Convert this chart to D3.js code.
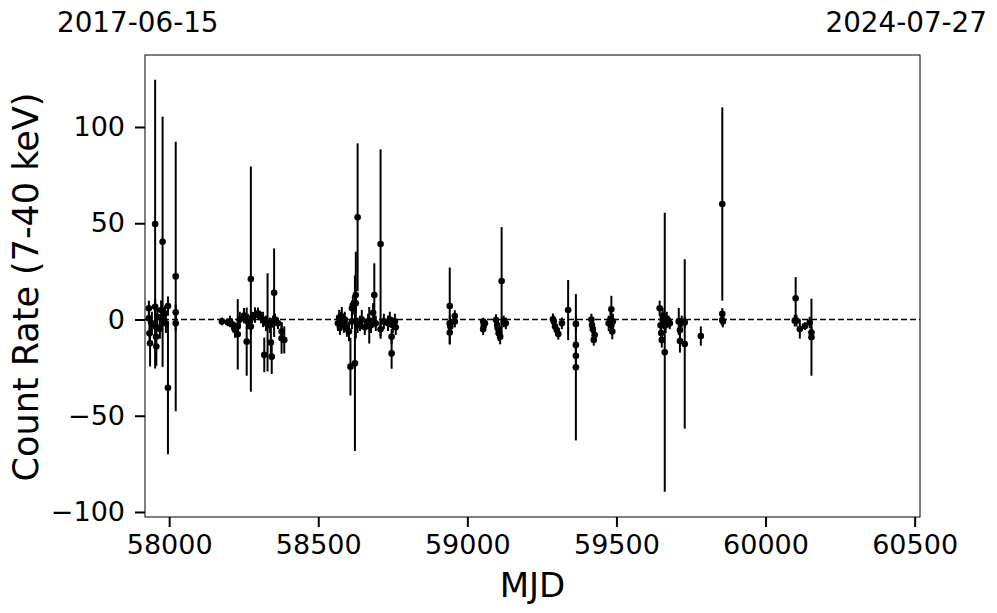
<!DOCTYPE html>
<html>
<head>
<meta charset="utf-8">
<script src="https://cdn.jsdelivr.net/npm/d3@7"></script>
<style>
  html, body { margin: 0; padding: 0; background: #fff; }
  svg { display: block; font-family: "DejaVu Sans", sans-serif; }
</style>
</head>
<body>
<svg id="chart" width="997" height="613"></svg>
<script>
// ---- data ----
const mjd = [
  57932, 57932, 57934, 57936, 57942, 57953, 57953, 57955, 57956, 57957, 57960, 57969, 57973, 57978, 57976, 57986, 57989, 57996, 57996, 58022, 58022, 58022,
  58177, 58197, 58204, 58211, 58221, 58230, 58230, 58237, 58251, 58260, 58264, 58274, 58274, 58278, 58288, 58298, 58308, 58315, 58319, 58325, 58330, 58338, 58344, 58341, 58348, 58352, 58355, 58365, 58377, 58377, 58386,
  58566, 58570, 58573, 58576, 58579, 58586, 58589, 58596, 58603, 58608, 58613, 58613, 58616, 58623, 58626, 58626, 58632, 58632, 58640, 58646, 58656, 58667, 58671, 58677, 58684, 58688, 58693, 58709, 58709, 58720, 58734, 58740, 58746, 58746, 58750, 58757, 58760,
  58941, 58941, 58943, 58941, 58958, 58958, 59053, 59055, 59053, 59059, 59115, 59096, 59100, 59102, 59105, 59110, 59122, 59129,
  59287, 59290, 59294, 59300, 59305, 59317, 59338, 59364, 59364, 59364, 59364, 59416, 59418, 59421, 59424, 59427, 59474, 59480, 59483, 59483, 59486, 59488,
  59645, 59648, 59650, 59652, 59655, 59658, 59662, 59665, 59669, 59675, 59679, 59709, 59713, 59713, 59719, 59729, 59729, 59783, 59855, 59855, 59855, 59857,
  60101, 60098, 60104, 60115, 60132, 60148, 60154, 60154
];
const rate = [
  5.8, 0.6, -7.2, -12.4, -2, 49.6, 6.6, -3.7, -8.9, -14, 1.5, -5, 4.9, 40.4, 0.6, 3.2, -2, 7, -35.5, 22.4, 3.7, -2,
  -1, -1.5, -1, -2.5, -5.5, -7.7, -3.7, 0, 2, -11.5, -1, 21, -3.7, 1, 2.3, 3.2, 1, 0, -18.4, -2, -1.5, -3, -19.3, -12, -1, 13.9, 0, -2, -6.3, -9.8, -10.6,
  -2, 1, -4, -1, 1.5, -3, 0, -5, -6.3, -24.5, 5.8, -1, 7.5, -22.7, 12.7, 8.4, 53.1, -3, -2, 0, -4, -1, -3, -3, 3.5, 12.7, -2, 39.2, -5.1, -1, -2, 0, -17.6, -8.9, -3, -1, -4,
  7, -2, -3.7, -6.8, 1.8, -1.1, -1.1, -3.4, -5.1, -2, 20, -0.3, -2.9, -4.6, -7.2, -8.9, -1, -2,
  0.1, -1, -3.7, -5.5, -7.5, -2, 4.9, -2.3, -13.2, -18.8, -24.8, 0, -2.9, -5.1, -10.6, -8, -2, 0, 5.3, -3, -6.3, -1,
  5.8, -3, -7, -10.6, 2, -1, -17, -3, 0, -1, -2, -1, -5.5, -11.2, -1, -12.7, -1.5, -8.6, 60, 2.9, -0.3, -1.1,
  11, -0.6, -0.6, -4.9, -3.4, -1.6, -6.8, -9.2
];
const rateErr = [
  4, 3, 5, 12, 6, 75, 4, 5, 6, 10, 4, 5, 5, 65, 4, 4, 5, 5, 34.5, 70, 4, 4,
  2, 2, 3, 3, 4, 18.3, 4, 4, 4, 17.7, 4, 58.5, 4, 3, 4, 3, 3, 4, 9, 4, 25.5, 4, 9, 8, 3, 23, 3, 3, 5, 8, 7,
  4, 4, 4, 5, 5, 4, 4, 4, 5, 15, 4, 4, 5, 45.6, 22.5, 5, 38.4, 4, 4, 5, 4, 4, 9.5, 4, 5, 16.5, 4, 49.2, 4, 4, 4, 4, 8, 4, 4, 4, 4,
  20, 4, 4, 6, 3, 3, 2, 2, 3, 2, 28, 3, 4, 4, 4, 4, 3, 3,
  3, 3, 3, 3, 3, 3, 15.6, 4, 4, 5, 38, 3, 4, 4, 3, 4, 4, 4, 7, 4, 4, 4,
  4, 4, 5, 4, 4, 4, 72.5, 4, 4, 3, 3, 7, 4, 6, 3, 44, 3, 5, 50.2, 3, 3, 3,
  11, 3, 3, 5, 2, 3, 3, 20
];
const xTicks = [58000, 58500, 59000, 59500, 60000, 60500];
const yTicks = [-100, -50, 0, 50, 100];
const xDomain = [57919, 60518];
const yDomain = [-102.6, 137.4];
const dateLabels = ["2017-06-15", "2024-07-27"];
const xLabel = "MJD";
const yLabel = "Count Rate (7-40 keV)";

// ---- layout ----
const svg = d3.select("#chart");
const L = 145, R = 920, T = 55, B = 517;
const x = d3.scaleLinear().domain(xDomain).range([L, R]);
const y = d3.scaleLinear().domain(yDomain).range([B, T]);

const data = mjd.map((m, i) => ({ m, r: rate[i], e: rateErr[i] }));

// clip
svg.append("defs").append("clipPath").attr("id", "clip")
  .append("rect").attr("x", L).attr("y", T).attr("width", R - L).attr("height", B - T);

const plot = svg.append("g").attr("clip-path", "url(#clip)");

// zero line
plot.append("line")
  .attr("x1", L).attr("x2", R)
  .attr("y1", y(0)).attr("y2", y(0))
  .attr("stroke", "#000").attr("stroke-width", 1.5)
  .attr("stroke-dasharray", "6,3");

// error bars
plot.selectAll("line.err").data(data).join("line")
  .attr("class", "err")
  .attr("x1", d => x(d.m)).attr("x2", d => x(d.m))
  .attr("y1", d => y(d.r - d.e)).attr("y2", d => y(d.r + d.e))
  .attr("stroke", "#000").attr("stroke-width", 2);

// points
plot.selectAll("circle").data(data).join("circle")
  .attr("cx", d => x(d.m)).attr("cy", d => y(d.r))
  .attr("r", 3.3).attr("fill", "#000");

// frame
svg.append("rect").attr("x", L).attr("y", T).attr("width", R - L).attr("height", B - T)
  .attr("fill", "none").attr("stroke", "#000").attr("stroke-width", 1);

// axes
const xAxis = d3.axisBottom(x).tickValues(xTicks).tickFormat(d3.format("d"))
  .tickSizeInner(10).tickSizeOuter(0).tickPadding(8);
const gx = svg.append("g").attr("transform", `translate(0,${B})`).call(xAxis);
gx.select(".domain").remove();
gx.selectAll(".tick line").attr("stroke-width", 2);
gx.selectAll(".tick text").attr("font-size", 27).attr("font-family", "DejaVu Sans").attr("fill", "#000");

const yAxis = d3.axisLeft(y).tickValues(yTicks)
  .tickFormat(d => d < 0 ? "\u2212" + Math.abs(d) : String(d))
  .tickSizeInner(10).tickSizeOuter(0).tickPadding(10);
const gy = svg.append("g").attr("transform", `translate(${L},0)`).call(yAxis);
gy.select(".domain").remove();
gy.selectAll(".tick line").attr("stroke-width", 2);
gy.selectAll(".tick text").attr("font-size", 27).attr("font-family", "DejaVu Sans").attr("fill", "#000");

// axis labels
svg.append("text").attr("x", (L + R) / 2).attr("y", 597)
  .attr("text-anchor", "middle").attr("font-size", 34).attr("fill", "#000").text(xLabel);
svg.append("text").attr("transform", `translate(38,${(T + B) / 2 + 1}) rotate(-90)`)
  .attr("text-anchor", "middle").attr("font-size", 35).attr("fill", "#000").text(yLabel);

// date labels
svg.append("text").attr("x", 57).attr("y", 32).attr("text-anchor", "start")
  .attr("font-size", 27.8).attr("fill", "#000").text(dateLabels[0]);
svg.append("text").attr("x", 987).attr("y", 32).attr("text-anchor", "end")
  .attr("font-size", 27.8).attr("fill", "#000").text(dateLabels[1]);
</script>
</body>
</html>
